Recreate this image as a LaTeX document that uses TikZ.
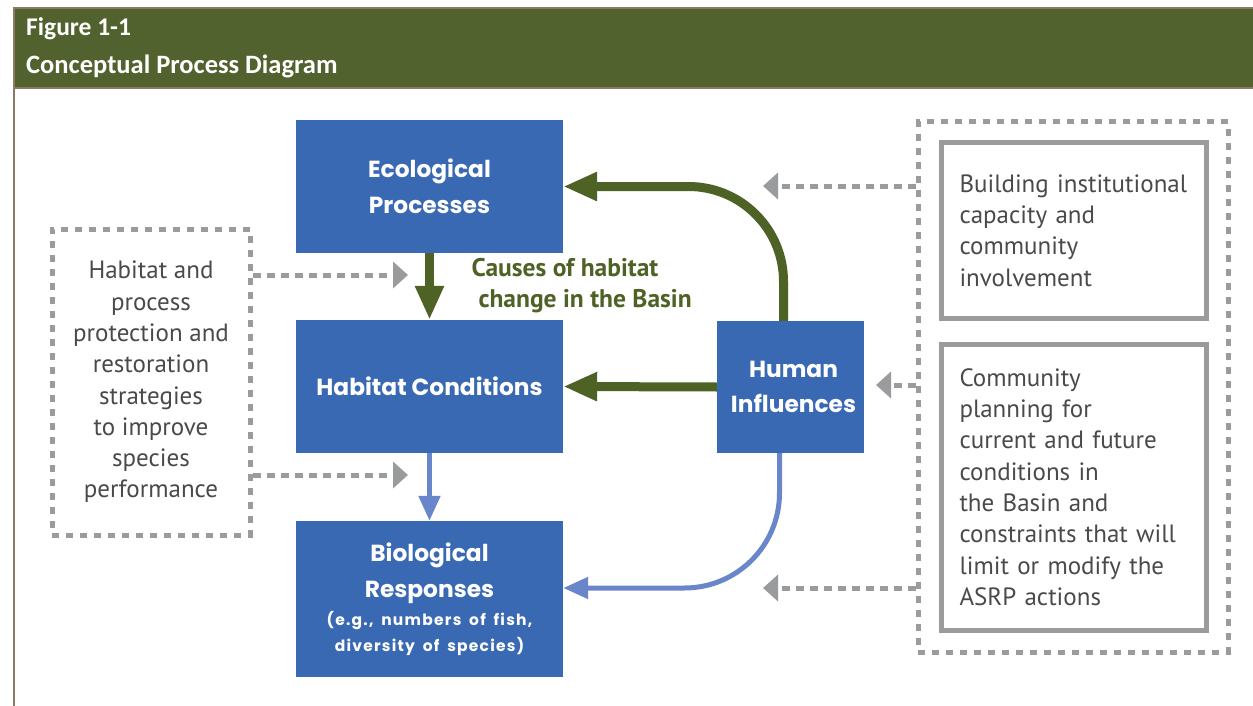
\documentclass[tikz,border=0pt]{standalone}
\usepackage{fontspec}
\setmainfont{PT Sans}
\newfontfamily\popf{Poppins}
\newfontfamily\popsp{Poppins}[LetterSpace=8]
\newfontfamily\calf{Carlito}
\usetikzlibrary{arrows.meta}
\definecolor{hdrgreen}{HTML}{51622E}
\definecolor{frame}{HTML}{8C7A66}
\definecolor{boxblue}{HTML}{3A69B3}
\definecolor{lightblue}{HTML}{6A86CB}
\definecolor{darkgreen}{HTML}{4E6226}
\definecolor{dgray}{HTML}{9A9B9D}
\definecolor{txtgray}{HTML}{4A4A4A}
\tikzset{
  bluebox/.style={fill=boxblue, draw=none, text=white, align=center,
    font=\popf\bfseries\fontsize{23.3}{35.5}\selectfont},
  dotbox/.style={draw=dgray, line width=5pt, dash pattern=on 7pt off 7pt},
  solidbox/.style={draw=dgray, line width=5pt},
  graytext/.style={text=txtgray, font=\fontsize{25}{31.3}\selectfont},
  greenarrow/.style={draw=darkgreen, line width=9pt, -{Triangle[length=34pt,width=27pt]}},
  bluearrow/.style={draw=lightblue, line width=5pt, -{Triangle[length=25pt,width=21pt]}},
  dasharrow/.style={draw=dgray, line width=5pt, dash pattern=on 8pt off 6pt, -{Triangle[length=15pt,width=26pt]}},
}
\begin{document}
\begin{tikzpicture}[x=1pt,y=-1pt]
\useasboundingbox (0,0) rectangle (1253,706);
\fill[white] (0,0) rectangle (1253,706);
% header
\fill[hdrgreen] (14,8) rectangle (1253,88);
\draw[frame, line width=1.2pt] (14,88) -- (1253,88);
\draw[frame, line width=2.5pt] (14,706) -- (14,8) -- (1253,8);
\node[anchor=base west, inner sep=0pt, text=white, font=\calf\bfseries\fontsize{25.5}{28}\selectfont] (fig) at (26,36) {Figure 1-1};
\node[anchor=base west, inner sep=0pt, text=white, font=\calf\bfseries\fontsize{26.5}{28}\selectfont] (title) at (26,74) {Conceptual Process Diagram};

% blue boxes
\node[bluebox, minimum width=267pt, minimum height=133pt] (eco) at (429.5,186.5) {Ecological\\Processes};
\node[bluebox, minimum width=267pt, minimum height=133pt] (hab) at (429.5,386.5) {Habitat Conditions};
\node[bluebox, minimum width=267pt, minimum height=156pt, text width=255pt] (bio) at (429.5,599)
  {Biological\par Responses\par\vspace{2pt}\popsp\fontsize{15.5}{26}\selectfont (e.g., numbers of fish,\par diversity of species)\par};
\node[bluebox, minimum width=147pt, minimum height=132pt, text width=135pt] (hum) at (790.5,387) {\hspace*{6pt}Human\\\hspace*{6pt}Influences};

% left dotted box
\node[dotbox, graytext, align=center, minimum width=198pt, minimum height=306pt] (lbox) at (151,382)
  {Habitat and\\process\\protection and\\restoration\\strategies\\to improve\\species\\performance};

% right dotted box and inner boxes
\node[dotbox, minimum width=310pt, minimum height=530pt] (rbox) at (1073,387) {};
\node[solidbox, graytext, align=left, minimum width=265pt, minimum height=175pt, text width=228pt] (build) at (1073.5,230.5)
  {Building institutional\\capacity and\\community\\involvement};
\node[solidbox, graytext, align=left, minimum width=265pt, minimum height=286pt, text width=228pt] (plan) at (1073.5,487)
  {Community\\planning for\\current and future\\conditions in\\the Basin and\\constraints that will\\limit or modify the\\ASRP actions};

% caption
\node[text=darkgreen, font=\bfseries\fontsize{25.5}{31}\selectfont, align=left, anchor=west] (causes) at (468,286)
  {Causes of habitat\\\hspace*{7pt}change in the Basin};

% solid arrows
\draw[greenarrow] (eco.south) -- (hab.north);
\draw[greenarrow] (hum.west) -- (hab.east);
\draw[greenarrow, rounded corners=95pt] ([xshift=-7pt]hum.north) |- (eco.east);
\draw[bluearrow] (hab.south) -- (bio.north);
\draw[bluearrow, rounded corners=95pt] ([xshift=-11pt]hum.south) |- ([yshift=11pt]bio.east);

% dashed arrows
\coordinate (t1) at (408,275);
\coordinate (t2) at (408,475);
\coordinate (t3) at (763,186);
\coordinate (t4) at (876,385);
\coordinate (t5) at (763,588);
\draw[dasharrow] (lbox.east |- t1) -- (t1);
\draw[dasharrow] (lbox.east |- t2) -- (t2);
\draw[dasharrow] (rbox.west |- t3) -- (t3);
\draw[dasharrow] (rbox.west |- t4) -- (t4);
\draw[dasharrow] (rbox.west |- t5) -- (t5);
\end{tikzpicture}
\end{document}
